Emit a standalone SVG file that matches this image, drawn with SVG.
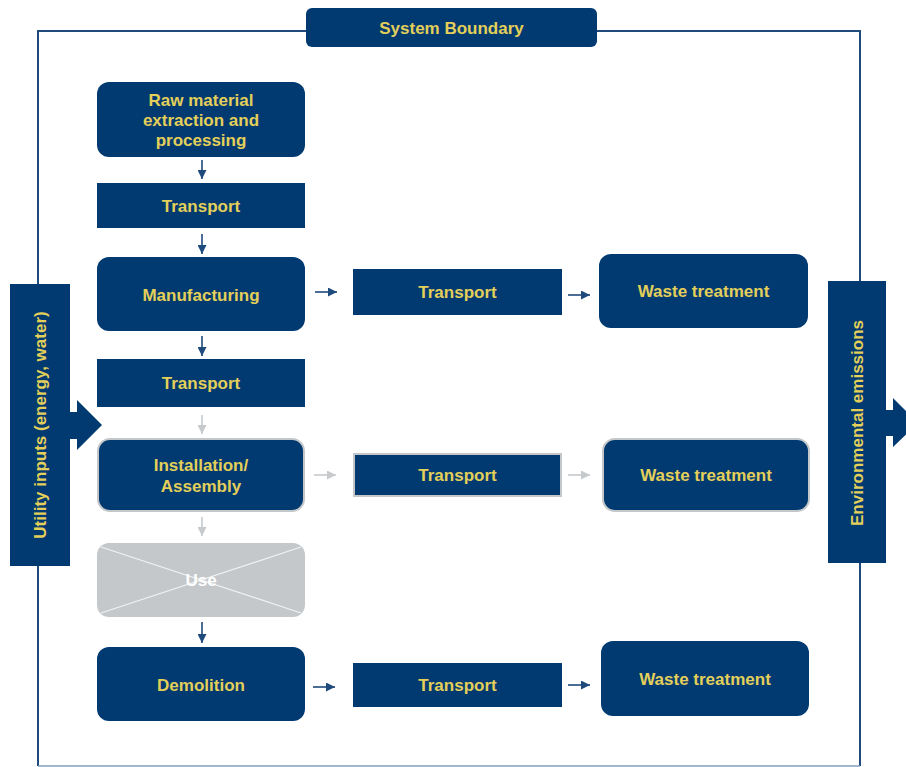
<svg xmlns="http://www.w3.org/2000/svg" width="906" height="767" viewBox="0 0 906 767">
<style>
.n{fill:#003a70}
.g{stroke:#c3c7ca;stroke-width:2}
.t{font-family:"Liberation Sans",Arial,sans-serif;font-weight:bold;font-size:17px;fill:#e3cf5a;text-anchor:middle}
.a{stroke:#1f4a7c;stroke-width:1.6;fill:none}
.ag{stroke:#c6cacd;stroke-width:1.6;fill:none}
</style>
<defs>
<marker id="mh" viewBox="0 0 10 10" refX="10" refY="5" markerWidth="9" markerHeight="9" markerUnits="userSpaceOnUse" orient="auto"><path d="M0,0L10,5L0,10z" fill="#1f4a7c"/></marker>
<marker id="mg" viewBox="0 0 10 10" refX="10" refY="5" markerWidth="9" markerHeight="9" markerUnits="userSpaceOnUse" orient="auto"><path d="M0,0L10,5L0,10z" fill="#c6cacd"/></marker>
</defs>
<g id="boundary"><path d="M38,766V31H860V766" fill="none" stroke="#1f4a7c" stroke-width="2"/><path d="M38,766H860" stroke="#7f9fc0" stroke-width="1.5"/></g>
<g id="system-boundary"><rect class="n" x="306" y="8" width="291" height="39" rx="6"/><text class="t" x="451.5" y="34">System Boundary</text></g>
<g id="raw"><rect class="n" x="97" y="82" width="208" height="75" rx="12"/><text class="t" x="201" y="106">Raw material</text><text class="t" x="201" y="126">extraction and</text><text class="t" x="201" y="146">processing</text></g>
<g id="transport1"><rect class="n" x="97" y="183" width="208" height="45"/><text class="t" x="201" y="212">Transport</text></g>
<g id="manufacturing"><rect class="n" x="97" y="257" width="208" height="74" rx="12"/><text class="t" x="201" y="301">Manufacturing</text></g>
<g id="transport2"><rect class="n" x="97" y="359" width="208" height="48"/><text class="t" x="201" y="389">Transport</text></g>
<g id="installation"><rect class="n g" x="98" y="439" width="206" height="72" rx="12"/><text class="t" x="201" y="471">Installation/</text><text class="t" x="201" y="492">Assembly</text></g>
<g id="use"><rect x="97" y="543" width="208" height="74" rx="12" fill="#c4c8ca"/><path d="M101,547L301,613M301,547L101,613" stroke="#f2f2f2" stroke-width="1.2"/><text class="t" x="201" y="586" style="fill:#ffffff">Use</text></g>
<g id="demolition"><rect class="n" x="97" y="647" width="208" height="74" rx="12"/><text class="t" x="201" y="691">Demolition</text></g>
<g id="transport-r1"><rect class="n" x="353" y="269" width="209" height="46"/><text class="t" x="457.5" y="298">Transport</text></g>
<g id="waste1"><rect class="n" x="599" y="254" width="209" height="74" rx="12"/><text class="t" x="703.5" y="297">Waste treatment</text></g>
<g id="transport-r2"><rect class="n g" x="354" y="454" width="207" height="42"/><text class="t" x="457.5" y="481">Transport</text></g>
<g id="waste2"><rect class="n g" x="603" y="439" width="206" height="72" rx="12"/><text class="t" x="706" y="481">Waste treatment</text></g>
<g id="transport-r3"><rect class="n" x="353" y="663" width="209" height="44"/><text class="t" x="457.5" y="691">Transport</text></g>
<g id="waste3"><rect class="n" x="601" y="641" width="208" height="75" rx="12"/><text class="t" x="705" y="685">Waste treatment</text></g>
<g id="utility"><path class="n" d="M10,284H70V412H77V400L102,425L77,450V439H70V566H10Z"/><text class="t" transform="translate(46,425) rotate(-90)">Utility inputs (energy, water)</text></g>
<g id="emissions"><path class="n" d="M828,281H886V410H893V398L918,423L893,447V436H886V563H828Z"/><text class="t" transform="translate(863,423) rotate(-90)">Environmental emissions</text></g>
<g id="connectors">
<line class="a" x1="202" y1="160" x2="202" y2="179" marker-end="url(#mh)"/>
<line class="a" x1="202" y1="234" x2="202" y2="254" marker-end="url(#mh)"/>
<line class="a" x1="202" y1="336" x2="202" y2="356" marker-end="url(#mh)"/>
<line class="ag" x1="202" y1="415" x2="202" y2="434" marker-end="url(#mg)"/>
<line class="ag" x1="202" y1="517" x2="202" y2="536" marker-end="url(#mg)"/>
<line class="a" x1="202" y1="622" x2="202" y2="643" marker-end="url(#mh)"/>
<line class="a" x1="315" y1="292" x2="337" y2="292" marker-end="url(#mh)"/>
<line class="a" x1="568" y1="295" x2="590" y2="295" marker-end="url(#mh)"/>
<line class="ag" x1="314" y1="475" x2="336" y2="475" marker-end="url(#mg)"/>
<line class="ag" x1="568" y1="475" x2="590" y2="475" marker-end="url(#mg)"/>
<line class="a" x1="313" y1="687" x2="335" y2="687" marker-end="url(#mh)"/>
<line class="a" x1="568" y1="685" x2="590" y2="685" marker-end="url(#mh)"/>
</g>
</svg>
